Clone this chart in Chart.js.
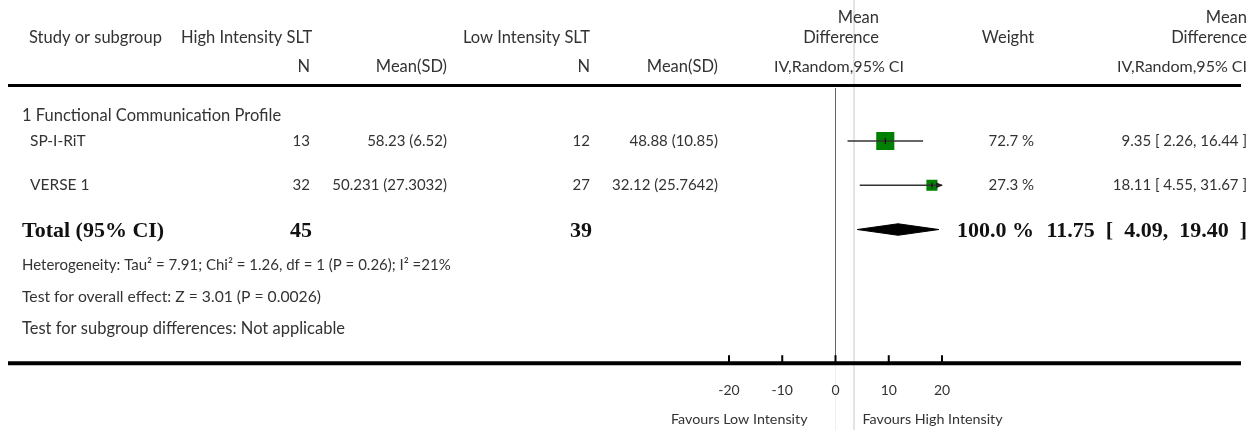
<!DOCTYPE html>
<html>
<head>
<meta charset="utf-8">
<script src="https://cdn.jsdelivr.net/npm/chart.js@4.4.1/dist/chart.umd.min.js"></script>
<style>
  html, body { margin: 0; padding: 0; background: #fff; }
  #wrap { width: 1260px; height: 430px; position: relative; }
</style>
</head>
<body>
<div id="wrap"><canvas id="forest"></canvas></div>
<script>
// study level data
const studies = ['SP-I-RiT', 'VERSE 1'];
const highN = [13, 32];
const highMeanSD = ['58.23 (6.52)', '50.231 (27.3032)'];
const lowN = [12, 27];
const lowMeanSD = ['48.88 (10.85)', '32.12 (25.7642)'];
const meanDiff = [9.35, 18.11];
const ciLow = [2.26, 4.55];
const ciHigh = [16.44, 31.67];
const weights = [72.7, 27.3];
const studyRows = [1, 3];

// pooled result
const totalHighN = 45;
const totalLowN = 39;
const totalMD = 11.75;
const totalLow = 4.09;
const totalHigh = 19.40;
const totalWeight = 100.0;
const totalRow = 5;

const xTicks = [-20, -10, 0, 10, 20];
const subgroup = '1 Functional Communication Profile';
const heterogeneity = 'Heterogeneity: Tau² = 7.91; Chi² = 1.26, df = 1 (P = 0.26); I² =21%';
const overallEffect = 'Test for overall effect: Z = 3.01 (P = 0.0026)';
const subgroupTest = 'Test for subgroup differences: Not applicable';
const favoursLeft = 'Favours Low Intensity';
const favoursRight = 'Favours High Intensity';

const HEAD = '16.5px Lato';
const NUM = '15px Lato';
const BOLD = 'bold 22px "Liberation Serif"';
const GREY = '#333';

function txt(ctx, s, x, y, align, font, color) {
  ctx.font = font || NUM;
  ctx.textAlign = align || 'left';
  ctx.textBaseline = 'middle';
  ctx.fillStyle = color || GREY;
  ctx.fillText(s, x, y);
}

function hline(ctx, x1, x2, y, w, color) {
  ctx.beginPath();
  ctx.moveTo(x1, y);
  ctx.lineTo(x2, y);
  ctx.lineWidth = w;
  ctx.strokeStyle = color;
  ctx.stroke();
}

function vline(ctx, x, y1, y2, w, color) {
  ctx.beginPath();
  ctx.moveTo(x, y1);
  ctx.lineTo(x, y2);
  ctx.lineWidth = w;
  ctx.strokeStyle = color;
  ctx.stroke();
}

function ciText(md, lo, hi) {
  return md.toFixed(2) + ' [ ' + lo.toFixed(2) + ', ' + hi.toFixed(2) + ' ]';
}

const forestText = {
  id: 'forestText',
  beforeDraw(chart) {
    const ctx = chart.ctx;
    const xs = chart.scales.x;
    ctx.save();
    ctx.fillStyle = '#fff';
    ctx.fillRect(0, 0, chart.width, chart.height);
    // faint guide lines
    vline(ctx, 854, 0, chart.height, 2, '#e4e4e4');
    vline(ctx, xs.getPixelForValue(0), chart.chartArea.bottom + 3, chart.height, 1, '#eeeeee');
    ctx.restore();
  },
  afterDatasetsDraw(chart) {
    const ctx = chart.ctx;
    const xs = chart.scales.x;
    const ys = chart.scales.y;
    ctx.save();

    // arrows for CIs running past the axis
    studies.forEach((s, i) => {
      if (ciHigh[i] > xs.max) {
        const px = xs.getPixelForValue(xs.max);
        const py = ys.getPixelForValue(studyRows[i]);
        ctx.beginPath();
        ctx.moveTo(px + 1, py);
        ctx.lineTo(px - 6, py - 3);
        ctx.lineTo(px - 6, py + 3);
        ctx.closePath();
        ctx.fillStyle = '#222';
        ctx.fill();
      }
    });

    // header
    txt(ctx, 'Mean', 879, 18, 'right', HEAD);
    txt(ctx, 'Mean', 1247, 18, 'right', HEAD);
    txt(ctx, 'Study or subgroup', 29, 38, 'left', HEAD);
    txt(ctx, 'High Intensity SLT', 181, 38, 'left', HEAD);
    txt(ctx, 'Low Intensity SLT', 463, 38, 'left', HEAD);
    txt(ctx, 'Difference', 879, 38, 'right', HEAD);
    txt(ctx, 'Weight', 1008, 38, 'center', HEAD);
    txt(ctx, 'Difference', 1247, 38, 'right', HEAD);
    txt(ctx, 'N', 310, 67, 'right', HEAD);
    txt(ctx, 'Mean(SD)', 447, 67, 'right', HEAD);
    txt(ctx, 'N', 590, 67, 'right', HEAD);
    txt(ctx, 'Mean(SD)', 718, 67, 'right', HEAD);
    txt(ctx, 'IV,Random,95% CI', 839, 67, 'center', '16px Lato');
    txt(ctx, 'IV,Random,95% CI', 1247, 67, 'right', '16px Lato');
    hline(ctx, 8, 1241, 85.5, 3, '#000');

    txt(ctx, subgroup, 22, 116, 'left', HEAD);

    // study rows
    studies.forEach((s, i) => {
      const y = ys.getPixelForValue(studyRows[i]);
      ctx.font = NUM;
      const hiLeft = 447 - ctx.measureText(highMeanSD[i]).width;
      const loLeft = 718 - ctx.measureText(lowMeanSD[i]).width;
      txt(ctx, s, 30, y, 'left', '15.5px Lato');
      txt(ctx, String(highN[i]), Math.min(310, hiLeft - 5), y, 'right');
      txt(ctx, highMeanSD[i], 447, y, 'right');
      txt(ctx, String(lowN[i]), Math.min(590, loLeft - 5), y, 'right');
      txt(ctx, lowMeanSD[i], 718, y, 'right');
      txt(ctx, weights[i].toFixed(1) + ' %', 1034, y, 'right');
      txt(ctx, ciText(meanDiff[i], ciLow[i], ciHigh[i]), 1247, y, 'right');
    });

    // total row
    const ty = ys.getPixelForValue(totalRow) + 2;
    txt(ctx, 'Total (95% CI)', 22, ty, 'left', BOLD, '#111');
    txt(ctx, String(totalHighN), 312, ty, 'right', BOLD, '#111');
    txt(ctx, String(totalLowN), 592, ty, 'right', BOLD, '#111');
    txt(ctx, totalWeight.toFixed(1) + ' %', 1034, ty, 'right', BOLD, '#111');
    txt(ctx, ciText(totalMD, totalLow, totalHigh).replace(/ /g, '  '), 1247, ty, 'right', BOLD, '#111');

    txt(ctx, heterogeneity, 22, 265, 'left', NUM);
    txt(ctx, overallEffect, 22, 297, 'left', '15.7px Lato');
    txt(ctx, subgroupTest, 22, 329, 'left', HEAD);

    // axis line with upward tick marks
    const axisY = chart.chartArea.bottom + 1;
    hline(ctx, 8, 1241, axisY, 4, '#000');
    xs.ticks.forEach(t => {
      vline(ctx, xs.getPixelForValue(t.value), axisY - 8, axisY, 2, '#000');
    });

    const zx = xs.getPixelForValue(0);
    txt(ctx, favoursLeft, zx - 28, 419, 'right', '14.3px Lato');
    txt(ctx, favoursRight, zx + 27, 419, 'left', '14.3px Lato');
    ctx.restore();
  }
};

const ciSets = studies.map((s, i) => ({
  type: 'line',
  label: s + ' CI',
  data: [{ x: ciLow[i], y: studyRows[i] }, { x: ciHigh[i], y: studyRows[i] }],
  borderColor: '#333',
  borderWidth: 1.5,
  pointRadius: 0,
  order: 1
}));

const squares = {
  label: 'Mean difference',
  data: studies.map((s, i) => ({ x: meanDiff[i], y: studyRows[i] })),
  pointStyle: 'rect',
  pointRadius: weights.map(w => 1.5 * Math.sqrt(w)),
  backgroundColor: '#008000',
  borderColor: '#008000',
  borderWidth: 0,
  order: 2
};

const meanTicks = {
  label: 'Point estimate',
  data: studies.map((s, i) => ({ x: meanDiff[i], y: studyRows[i] })),
  pointStyle: 'line',
  rotation: 90,
  pointRadius: 3,
  borderColor: '#000',
  borderWidth: 1,
  order: 0
};

const halfH = 0.26;
const diamond = {
  type: 'line',
  label: 'Total',
  data: [
    { x: totalLow, y: totalRow },
    { x: totalMD, y: totalRow - halfH },
    { x: totalHigh, y: totalRow },
    { x: totalMD, y: totalRow + halfH },
    { x: totalLow, y: totalRow }
  ],
  borderColor: '#000',
  borderWidth: 1,
  backgroundColor: '#000',
  fill: 'shape',
  pointRadius: 0,
  tension: 0,
  order: 1
};

new Chart(document.getElementById('forest'), {
  type: 'scatter',
  data: { datasets: [...ciSets, squares, meanTicks, diamond] },
  options: {
    responsive: true,
    maintainAspectRatio: false,
    animation: false,
    layout: { padding: { left: 729, right: 318, top: 88, bottom: 11 } },
    plugins: { legend: { display: false }, tooltip: { enabled: false } },
    scales: {
      x: {
        type: 'linear',
        min: -20,
        max: 20,
        afterBuildTicks: axis => { axis.ticks = xTicks.map(v => ({ value: v })); },
        ticks: { padding: 20, font: { family: 'Lato', size: 14 }, color: GREY },
        grid: {
          drawTicks: false,
          color: c => (c.tick && c.tick.value === 0 ? '#666' : 'rgba(0,0,0,0)'),
          lineWidth: 1
        },
        border: { display: false }
      },
      y: {
        type: 'linear',
        reverse: true,
        min: -1.4,
        max: 11,
        display: false
      }
    }
  },
  plugins: [forestText]
});
</script>
</body>
</html>
